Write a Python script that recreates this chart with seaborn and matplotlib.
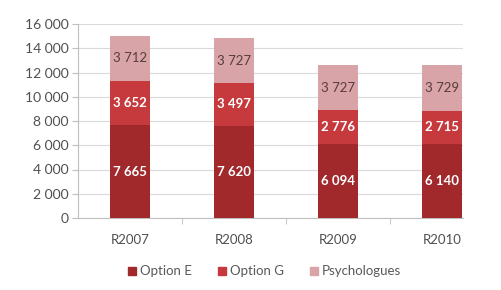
import numpy as np
import pandas as pd
import seaborn as sns
from matplotlib import pyplot as plt
from matplotlib.patches import Patch
from matplotlib.ticker import FuncFormatter, FixedLocator

#data
years = ['R2007', 'R2008', 'R2009', 'R2010']
option_e = [7665, 7620, 6094, 6140]
option_g = [3652, 3497, 2776, 2715]
psycho = [3712, 3727, 3727, 3729]

col_e = '#A1292C'
col_g = '#C63A3E'
col_p = '#D8A4A7'

sns.set_style('white')
plt.rcParams['font.family'] = ['Lato', 'DejaVu Sans']

df = pd.DataFrame({'year': years, 'E': option_e, 'G': option_g, 'P': psycho})
df['EG'] = df['E'] + df['G']
df['total'] = df['EG'] + df['P']

fig = plt.figure(figsize=(5.01, 2.9), dpi=100)
ax = fig.add_axes([78/501, 72/290, 385/501, 194/290])

#stacked: draw totals first, then cover
sns.barplot(x='year', y='total', data=df, color=col_p, width=0.39, saturation=1, ax=ax, zorder=3, linewidth=0, edgecolor='none')
sns.barplot(x='year', y='EG', data=df, color=col_g, width=0.39, saturation=1, ax=ax, zorder=3, linewidth=0, edgecolor='none')
sns.barplot(x='year', y='E', data=df, color=col_e, width=0.39, saturation=1, ax=ax, zorder=3, linewidth=0, edgecolor='none')

def fmt(v):
    return '{:,}'.format(int(v)).replace(',', ' ')

for i in range(len(years)):
    ax.text(i, df['E'][i] / 2, fmt(df['E'][i]), ha='center', va='center', color='white', fontsize=9.5, fontweight='bold', zorder=4)
    ax.text(i, df['E'][i] + df['G'][i] / 2, fmt(df['G'][i]), ha='center', va='center', color='white', fontsize=9.5, fontweight='bold', zorder=4)
    ax.text(i, df['EG'][i] + df['P'][i] / 2, fmt(df['P'][i]), ha='center', va='center', color='#5A3C3E', fontsize=9.5, zorder=4)

ax.set_ylim(0, 16000)
ax.set_xlim(-0.5, 3.2)
ax.set_yticks(range(0, 16001, 2000))
ax.yaxis.set_major_formatter(FuncFormatter(lambda v, p: fmt(v)))
ax.grid(axis='y', color='#D9D9D9', linewidth=0.8, zorder=0)
ax.set_xlabel('')
ax.set_ylabel('')

for s in ['top', 'right']:
    ax.spines[s].set_visible(False)
ax.spines['left'].set_color('#BFBFBF')
ax.spines['bottom'].set_color('#BFBFBF')
ax.tick_params(axis='y', left=True, length=4, color='#BFBFBF', labelsize=10, labelcolor='#505050', pad=3)
ax.tick_params(axis='x', bottom=False, labelsize=9.5, labelcolor='#505050', pad=8)
ax.xaxis.set_minor_locator(FixedLocator([0.5, 1.5, 2.5]))
ax.tick_params(axis='x', which='minor', bottom=True, length=4, color='#BFBFBF')

handles = [Patch(color=col_e, label='Option E'), Patch(color=col_g, label='Option G'), Patch(color=col_p, label='Psychologues')]
fig.legend(handles=handles, loc='center', bbox_to_anchor=(0.528, 18/290 + 0.002), ncol=3, frameon=False,
           fontsize=9.5, handlelength=0.6, handleheight=0.6, handletextpad=0.3, columnspacing=2.0,
           labelcolor='#595959')

fig.savefig('out.png', dpi=100)
